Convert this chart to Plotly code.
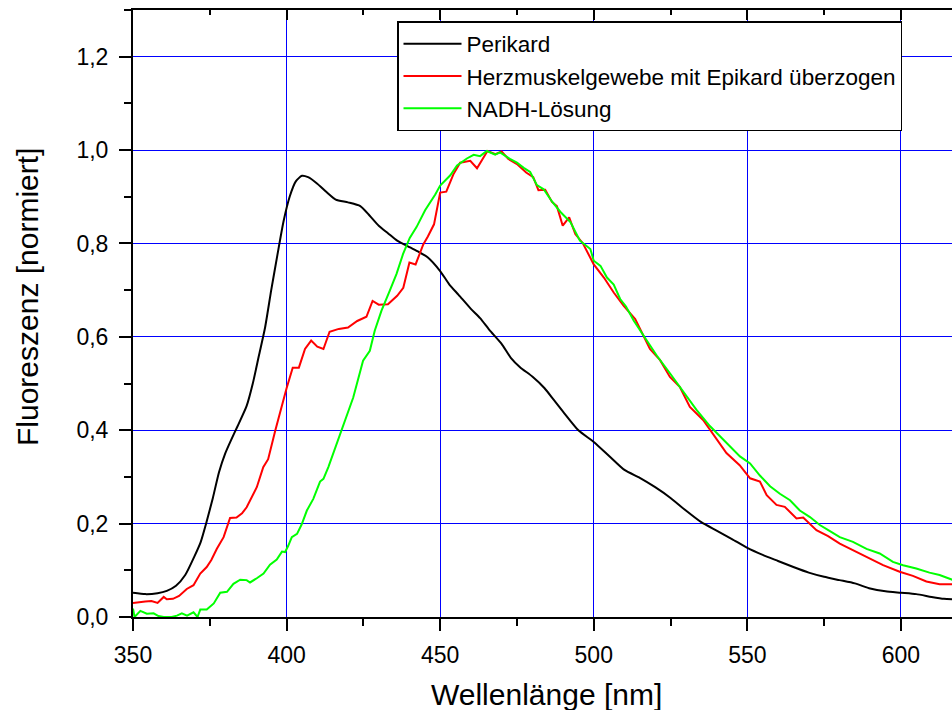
import plotly.graph_objects as go

# ---------------- data ----------------
peri_wl = [350, 354, 358, 361, 364, 367, 370, 372, 374, 376, 378, 380, 382, 384, 387, 389, 391, 393,
           395, 397, 399, 401, 403, 405, 407, 410, 413, 416, 420, 424, 427, 430, 433, 436, 440, 443,
           446, 450, 453, 456, 460, 463, 466, 470, 473, 476, 480, 484, 487, 490, 495, 500, 505, 510,
           515, 520, 525, 530, 535, 540, 545, 550, 555, 560, 565, 570, 575, 580, 585, 590, 595, 600,
           605, 610, 614, 617]
peri_val = [0.052, 0.049, 0.051, 0.056, 0.067, 0.090, 0.130, 0.160, 0.205, 0.255, 0.310, 0.350, 0.380,
            0.408, 0.452, 0.500, 0.560, 0.620, 0.700, 0.775, 0.847, 0.900, 0.933, 0.945, 0.942, 0.928,
            0.910, 0.894, 0.888, 0.880, 0.860, 0.838, 0.822, 0.806, 0.792, 0.782, 0.770, 0.741, 0.712,
            0.690, 0.660, 0.640, 0.615, 0.585, 0.555, 0.535, 0.515, 0.490, 0.465, 0.440, 0.400, 0.375,
            0.345, 0.315, 0.298, 0.278, 0.255, 0.228, 0.203, 0.185, 0.167, 0.148, 0.133, 0.120, 0.107,
            0.095, 0.086, 0.079, 0.072, 0.061, 0.055, 0.052, 0.049, 0.043, 0.039, 0.038]

herz_wl = [350, 352, 354, 356, 358, 360, 361, 363, 365, 367.5, 369.7, 371.9, 374, 375.5, 377.3, 379.5,
           381.6, 383.7, 385.5, 387, 390.3, 392.4, 394, 396.3, 398, 400, 402, 404, 406, 408, 410, 412,
           414, 417, 420, 423, 426, 428, 430, 433, 436, 438, 440, 442, 444.5, 446, 448, 450, 452, 454.3,
           456.5, 459.8, 462, 465.4, 468, 470, 472.2, 475, 478, 480.3, 482, 484.2, 486.4, 488, 489.9,
           492, 494, 496.5, 500, 503.3, 506.5, 509.7, 513.5, 516.2, 518.3, 521.6, 524.8, 528, 531.3,
           535.6, 538.8, 543.2, 547.5, 550.9, 554.1, 556.3, 559.5, 562.2, 566, 568.2, 572.5, 576.3,
           580.1, 584.4, 588.2, 594.2, 599.6, 603.9, 608.3, 612.6, 617]
herz_val = [0.030, 0.032, 0.033, 0.034, 0.030, 0.043, 0.038, 0.039, 0.045, 0.060, 0.068, 0.093, 0.107,
            0.122, 0.146, 0.171, 0.212, 0.213, 0.222, 0.235, 0.278, 0.321, 0.338, 0.399, 0.442, 0.490,
            0.534, 0.534, 0.574, 0.592, 0.579, 0.574, 0.611, 0.617, 0.620, 0.634, 0.643, 0.677, 0.669,
            0.670, 0.688, 0.705, 0.759, 0.755, 0.798, 0.815, 0.841, 0.909, 0.911, 0.948, 0.973, 0.977,
            0.961, 0.998, 0.991, 0.997, 0.981, 0.970, 0.952, 0.942, 0.914, 0.915, 0.889, 0.880, 0.838,
            0.856, 0.820, 0.800, 0.755, 0.727, 0.695, 0.667, 0.638, 0.600, 0.574, 0.550, 0.514, 0.493,
            0.450, 0.422, 0.393, 0.351, 0.325, 0.297, 0.290, 0.261, 0.240, 0.236, 0.211, 0.213, 0.186,
            0.173, 0.157, 0.143, 0.130, 0.111, 0.097, 0.088, 0.076, 0.070, 0.070]

nadh_wl = [350, 350.5, 352.4, 354.5, 356.7, 358.3, 360, 362.6, 364.3, 365.9, 367.6, 369.7, 371, 371.9,
           374, 376.3, 378.4, 380.6, 382.7, 384.9, 387, 388.1, 390.3, 392.5, 394.6, 396.8, 398.5, 399.5,
           400.5, 401.7, 403.4, 404.9, 406.6, 408.7, 410.9, 412, 413.6, 416.3, 419.5, 421.7, 424.9,
           427.1, 428.7, 430.9, 433.6, 435.8, 437.9, 440.1, 442.3, 445.1, 448.4, 450, 453.3, 455.5,
           458.7, 460.9, 463, 465.2, 467.9, 469.5, 472.7, 475, 477.2, 479.3, 481.5, 483.7, 486.4, 489.1,
           492.4, 495.5, 498.9, 500, 502.2, 504.3, 506.5, 508.6, 510.5, 513, 516.2, 520.5, 524.8, 529.1,
           533.4, 537.8, 543.2, 547.6, 550.9, 554.1, 557.4, 560.6, 563.9, 567.1, 570.4, 573.6, 576.9,
           580.1, 584.4, 588.8, 593.1, 597.4, 600.7, 605, 609.3, 612.6, 617]
nadh_val = [0.018, 0.000, 0.013, 0.007, 0.008, 0.002, 0.000, 0.000, 0.003, 0.008, 0.003, 0.010, 0.000,
            0.016, 0.016, 0.029, 0.052, 0.054, 0.071, 0.080, 0.079, 0.074, 0.083, 0.093, 0.112, 0.123,
            0.140, 0.139, 0.152, 0.171, 0.178, 0.198, 0.228, 0.253, 0.290, 0.296, 0.321, 0.370, 0.427,
            0.470, 0.549, 0.570, 0.613, 0.656, 0.699, 0.735, 0.777, 0.812, 0.835, 0.871, 0.905, 0.924,
            0.946, 0.967, 0.982, 0.990, 0.987, 0.998, 0.990, 0.995, 0.981, 0.973, 0.962, 0.953, 0.925,
            0.916, 0.890, 0.868, 0.846, 0.806, 0.788, 0.763, 0.752, 0.727, 0.712, 0.681, 0.665, 0.635,
            0.603, 0.560, 0.522, 0.483, 0.444, 0.409, 0.373, 0.344, 0.329, 0.303, 0.280, 0.264, 0.250,
            0.228, 0.214, 0.197, 0.184, 0.171, 0.161, 0.146, 0.136, 0.118, 0.111, 0.104, 0.095, 0.090,
            0.079]

series_names = ["Perikard", "Herzmuskelgewebe mit Epikard überzogen", "NADH-Lösung"]
series_colors = ["#000000", "#ff0000", "#00ff00"]
series_shapes = ["spline", "linear", "linear"]

x_title = "Wellenlänge [nm]"
y_title = "Fluoreszenz [normiert]"

# ---------------- figure ----------------
FONT = "Liberation Sans, Arial, sans-serif"
fig = go.Figure()
for wl, val, name, col, shp in zip([peri_wl, herz_wl, nadh_wl], [peri_val, herz_val, nadh_val],
                                   series_names, series_colors, series_shapes):
    fig.add_trace(go.Scatter(x=wl, y=val, mode="lines", name=name,
                             line=dict(color=col, width=2, shape=shp, smoothing=0.6)))

W, H = 952, 710
ML, MR, MT, MB = 133, 0, 10, 93
XMAX = 350 + (W - ML - MR) / 3.0716

fig.update_layout(
    width=W, height=H,
    margin=dict(l=ML, r=MR, t=MT, b=MB, pad=0),
    paper_bgcolor="white", plot_bgcolor="white",
    separators=", ",
    font=dict(family=FONT, color="black"),
    showlegend=True,
    legend=dict(x=(397 - ML) / (W - ML - MR), y=(H - MB - 21) / (H - MB - MT),
                xanchor="left", yanchor="top",
                bgcolor="white", bordercolor="black", borderwidth=1.5,
                font=dict(size=22.5, family=FONT, color="black"),
                itemwidth=58, tracegroupgap=0),
    xaxis=dict(range=[350, XMAX], dtick=50, tick0=350,
               showgrid=True, gridcolor="#0000ff", gridwidth=1,
               showline=True, linecolor="black", linewidth=2,
               ticks="outside", ticklen=12, tickwidth=2, tickcolor="black",
               tickfont=dict(size=23, family=FONT), zeroline=False,
               minor=dict(dtick=25, tick0=350, ticks="outside", ticklen=7, tickwidth=2,
                          tickcolor="black", showgrid=False),
               ticklabelstandoff=4),
    xaxis2=dict(overlaying="x", matches="x", side="top", anchor="y",
                range=[350, XMAX], dtick=50, tick0=350,
                showgrid=False, showline=True, linecolor="black", linewidth=2,
                ticks="inside", ticklen=10, tickwidth=2, tickcolor="black",
                showticklabels=False, zeroline=False,
                minor=dict(dtick=25, tick0=350, ticks="inside", ticklen=5, tickwidth=2,
                           tickcolor="black", showgrid=False)),
    yaxis=dict(range=[0, 1.3], dtick=0.2, tick0=0, tickformat=".1f",
               showgrid=True, gridcolor="#0000ff", gridwidth=1,
               showline=True, linecolor="black", linewidth=2,
               ticks="outside", ticklen=12, tickwidth=2, tickcolor="black",
               tickfont=dict(size=23, family=FONT), zeroline=False,
               minor=dict(dtick=0.1, tick0=0, ticks="outside", ticklen=7, tickwidth=2,
                          tickcolor="black", showgrid=False),
               ticklabelstandoff=6),
    annotations=[
        dict(text=x_title, xref="paper", yref="paper",
             x=(546 - ML) / (W - ML - MR), y=(H - MB - 694) / (H - MB - MT),
             xanchor="center", yanchor="middle", showarrow=False,
             font=dict(size=30, family=FONT, color="black")),
        dict(text=y_title, xref="paper", yref="paper", textangle=-90,
             x=(27 - ML) / (W - ML - MR), y=(H - MB - 297) / (H - MB - MT),
             xanchor="center", yanchor="middle", showarrow=False,
             font=dict(size=30, family=FONT, color="black")),
    ],
)

# dummy trace to activate the mirrored top axis
fig.add_trace(go.Scatter(x=[None], y=[None], xaxis="x2", yaxis="y", showlegend=False,
                         hoverinfo="skip"))

fig.write_html("out.html")
